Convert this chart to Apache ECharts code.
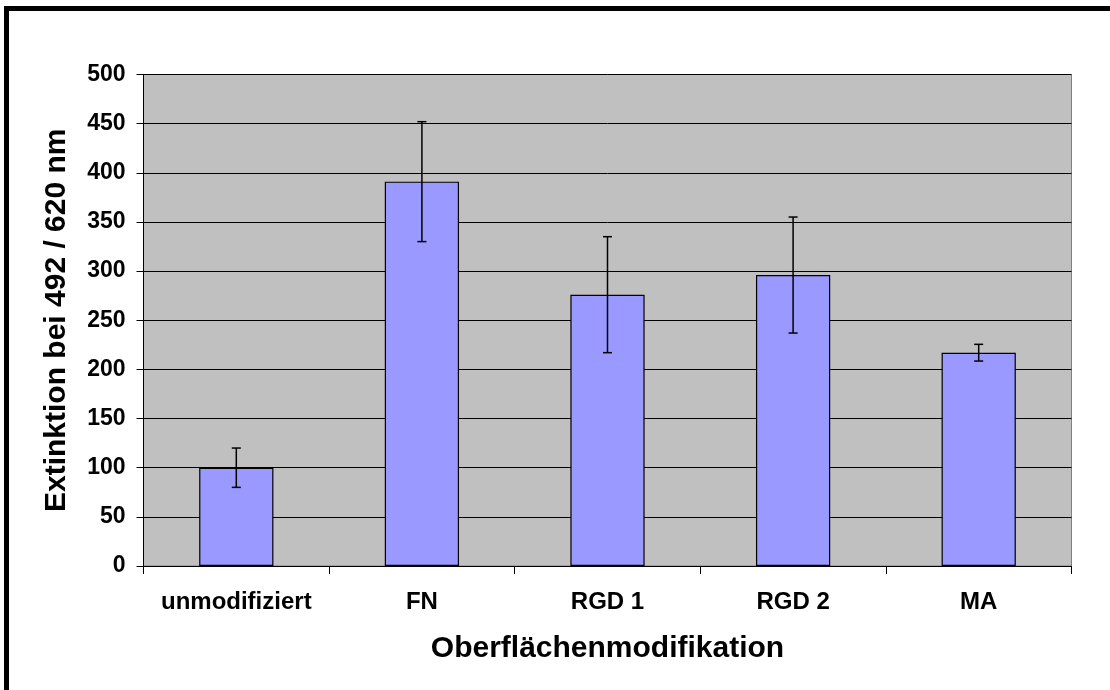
<!DOCTYPE html>
<html>
<head>
<meta charset="utf-8">
<script src="https://cdn.jsdelivr.net/npm/echarts@6/dist/echarts.min.js"></script>
<style>
  html, body { margin: 0; padding: 0; background: #fff; overflow: hidden; }
  #frame { position: absolute; left: 4px; top: 6px; width: 1300px; height: 900px; border: 5px solid #000; box-sizing: border-box; }
  #chart { position: absolute; left: 0; top: 0; width: 1110px; height: 690px; }
</style>
</head>
<body>
<div id="frame"></div>
<div id="chart"></div>
<script>
const categories = ['unmodifiziert', 'FN', 'RGD 1', 'RGD 2', 'MA'];
const means = [100, 391, 276, 296, 217];
const errors = [20, 61, 59, 59, 8.5];
const yTicks = { min: 0, max: 500, interval: 50 };
const xTitle = 'Oberflächenmodifikation';
const yTitle = 'Extinktion bei 492 / 620 nm';

const FONT = "'Liberation Sans', Arial, sans-serif";
const errData = categories.map((c, i) => [i, means[i] - errors[i], means[i] + errors[i]]);

const chart = echarts.init(document.getElementById('chart'), null, { renderer: 'canvas' });
chart.setOption({
  animation: false,
  backgroundColor: 'transparent',
  grid: {
    left: 143.5, right: 38.5, top: 74.5, bottom: 124,
    show: true, backgroundColor: '#C0C0C0', borderColor: '#808080', borderWidth: 1
  },
  xAxis: {
    type: 'category',
    data: categories,
    name: xTitle,
    nameLocation: 'middle',
    nameGap: 68,
    nameTextStyle: { fontFamily: FONT, fontWeight: 'bold', fontSize: 30, color: '#000' },
    axisLine: { lineStyle: { color: '#000', width: 1 } },
    axisTick: { show: true, interval: 0, length: 8, lineStyle: { color: '#000' } },
    axisLabel: { interval: 0, hideOverlap: false, margin: 24, fontFamily: FONT, fontWeight: 'bold', fontSize: 24, color: '#000' },
    splitLine: { show: false }
  },
  yAxis: {
    type: 'value',
    min: yTicks.min, max: yTicks.max, interval: yTicks.interval,
    name: yTitle,
    nameLocation: 'middle',
    nameGap: 72,
    nameTextStyle: { fontFamily: FONT, fontWeight: 'bold', fontSize: 30, color: '#000' },
    axisLine: { show: true, lineStyle: { color: '#000', width: 1 } },
    axisTick: { show: true, length: 7, lineStyle: { color: '#000' } },
    axisLabel: { margin: 18, fontFamily: FONT, fontWeight: 'bold', fontSize: 23, color: '#000' },
    splitLine: { show: true, lineStyle: { color: '#000', width: 1 } }
  },
  series: [
    {
      type: 'bar',
      data: means,
      barWidth: '40%',
      itemStyle: { color: '#9999FF', borderColor: '#000', borderWidth: 1.2 },
      z: 2
    },
    {
      type: 'custom',
      data: errData,
      z: 3,
      renderItem: function (params, api) {
        const x = api.value(0);
        const lo = api.coord([x, api.value(1)]);
        const hi = api.coord([x, api.value(2)]);
        const half = 4.5;
        const style = { stroke: '#000', lineWidth: 1.5 };
        return {
          type: 'group',
          children: [
            { type: 'line', shape: { x1: hi[0], y1: hi[1], x2: lo[0], y2: lo[1] }, style: style },
            { type: 'line', shape: { x1: hi[0] - half, y1: hi[1], x2: hi[0] + half, y2: hi[1] }, style: style },
            { type: 'line', shape: { x1: lo[0] - half, y1: lo[1], x2: lo[0] + half, y2: lo[1] }, style: style }
          ]
        };
      }
    }
  ]
});
</script>
</body>
</html>
